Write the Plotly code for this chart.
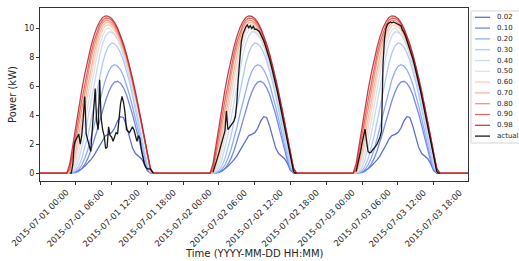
import pandas as pd
import plotly.graph_objects as go

# ---------------- data ----------------
days = ["2015-07-01", "2015-07-02", "2015-07-03"]
x_start = "2015-07-01 00:00"
x_end = "2015-07-03 23:45"

quantile_labels = ["0.02", "0.10", "0.20", "0.30", "0.40", "0.50",
                   "0.60", "0.70", "0.80", "0.90", "0.98"]

# daily forecast profile, half-hourly from 04:30 to 19:00 (same each day)
q_hours = [4.5, 5.0, 5.5, 6.0, 6.5, 7.0, 7.5, 8.0, 8.5, 9.0, 9.5, 10.0, 10.5, 11.0, 11.5,
           12.0, 12.5, 13.0, 13.5, 14.0, 14.5, 15.0, 15.5, 16.0, 16.5, 17.0, 17.5, 18.0, 18.5, 19.0]

q02 = [0, 0, 0.03, 0.08, 0.17, 0.30, 0.47, 0.68, 0.92, 1.20, 1.55, 1.95, 2.35, 2.60, 2.68,
       2.80, 3.10, 3.60, 3.90, 3.85, 3.25, 2.45, 1.75, 1.35, 1.20, 1.00, 0.65, 0.18, 0.02, 0]
q10 = [0, 0, 0.01, 0.04, 0.13, 0.31, 0.60, 1.00, 1.53, 2.16, 2.86, 3.60, 4.34, 5.02, 5.59,
       6.03, 6.29, 6.35, 6.22, 5.90, 5.42, 4.80, 4.07, 3.25, 2.41, 1.57, 0.81, 0.21, 0, 0]
q20 = [0, 0, 0.01, 0.09, 0.26, 0.56, 1.01, 1.60, 2.33, 3.16, 4.04, 4.93, 5.76, 6.48, 7.03,
       7.38, 7.50, 7.41, 7.15, 6.72, 6.14, 5.42, 4.61, 3.73, 2.80, 1.88, 1.02, 0.29, 0, 0]
q30 = [0, 0, 0.04, 0.19, 0.50, 0.99, 1.68, 2.54, 3.53, 4.60, 5.68, 6.71, 7.61, 8.32, 8.79,
       9.00, 8.94, 8.72, 8.33, 7.79, 7.10, 6.29, 5.38, 4.40, 3.37, 2.32, 1.31, 0.41, 0.05, 0]
q40 = [0, 0, 0.10, 0.41, 0.94, 1.69, 2.63, 3.72, 4.88, 6.05, 7.16, 8.15, 8.94, 9.49, 9.76,
       9.75, 9.58, 9.26, 8.80, 8.20, 7.48, 6.65, 5.73, 4.75, 3.71, 2.66, 1.62, 0.64, 0.10, 0]
q50 = [0, 0.01, 0.22, 0.72, 1.46, 2.40, 3.48, 4.64, 5.82, 6.96, 7.99, 8.85, 9.50, 9.91, 10.05,
       9.87, 9.62, 9.26, 8.80, 8.25, 7.60, 6.87, 6.07, 5.21, 4.29, 3.31, 2.30, 1.26, 0.22, 0]
q60 = [0, 0.04, 0.43, 1.13, 2.03, 3.09, 4.24, 5.41, 6.56, 7.63, 8.56, 9.33, 9.88, 10.20, 10.26,
       10.10, 9.85, 9.48, 9.00, 8.44, 7.78, 7.03, 6.21, 5.33, 4.38, 3.38, 2.35, 1.29, 0.25, 0]
q70 = [0, 0.07, 0.65, 1.52, 2.56, 3.69, 4.87, 6.04, 7.15, 8.15, 9.00, 9.68, 10.16, 10.41, 10.43,
       10.27, 10.01, 9.63, 9.15, 8.58, 7.90, 7.15, 6.31, 5.42, 4.46, 3.44, 2.39, 1.31, 0.25, 0]
q80 = [0, 0.21, 1.07, 2.12, 3.28, 4.46, 5.64, 6.76, 7.78, 8.68, 9.44, 10.01, 10.40, 10.58, 10.56,
       10.41, 10.15, 9.77, 9.28, 8.70, 8.02, 7.25, 6.40, 5.49, 4.52, 3.49, 2.43, 1.32, 0.30, 0]
q90 = [0, 0.34, 1.42, 2.61, 3.83, 5.04, 6.19, 7.26, 8.22, 9.05, 9.73, 10.25, 10.58, 10.73, 10.71,
       10.57, 10.30, 9.92, 9.43, 8.83, 8.14, 7.35, 6.47, 5.53, 4.52, 3.46, 2.38, 1.25, 0.30, 0]
q98 = [0, 0.65, 1.98, 3.29, 4.55, 5.74, 6.83, 7.82, 8.70, 9.44, 10.04, 10.47, 10.76, 10.88, 10.84,
       10.69, 10.42, 10.03, 9.53, 8.93, 8.23, 7.44, 6.57, 5.64, 4.64, 3.58, 2.49, 1.36, 0.35, 0]

quantile_values = [q02, q10, q20, q30, q40, q50, q60, q70, q80, q90, q98]

# actual measured power, quarter-hourly from 05:00 to 19:00
a_hours = [5.0 + 0.25 * i for i in range(57)]
actual_day1 = [0, 0, 0.6, 2.0, 2.3, 2.5, 2.7, 2.0, 2.6, 3.8, 5.3, 2.7, 2.2, 1.9, 1.5, 3.0, 4.4,
               5.85, 3.6, 3.0, 6.45, 3.8, 3.0, 2.6, 1.7, 1.8, 3.2, 2.6, 2.5, 2.2, 2.5, 2.8, 2.7,
               4.0, 4.8, 5.3, 4.9, 4.2, 3.0, 2.9, 2.8, 3.0, 3.2, 3.0, 2.5, 2.2, 2.6, 2.4, 1.6,
               1.0, 0.6, 0.4, 0.3, 0.3, 0.3, 0.1, 0]
actual_day2 = [0.05, 0.35, 0.7, 1.05, 1.4, 1.8, 2.15, 2.5, 2.9, 4.3, 3.0, 3.15, 3.3, 3.4, 3.6,
               3.9, 4.9, 6.6, 8.1, 9.1, 9.6, 9.9, 10.1, 10.25, 10.05, 10.2, 10.0, 10.15, 9.95,
               9.95, 9.9, 9.8, 9.6, 9.4, 9.15, 8.85, 8.55, 8.2, 7.85, 7.45, 7.05, 6.6, 6.15, 5.7,
               5.2, 4.7, 4.2, 3.7, 3.15, 2.6, 2.05, 1.5, 0.95, 0.45, 0.1, 0, 0]
actual_day3 = [0.1, 0.5, 1.0, 1.5, 2.1, 2.6, 3.05, 2.2, 1.5, 1.4, 1.45, 1.6, 1.7, 1.85, 2.0,
               2.2, 2.5, 2.9, 7.5, 9.3, 10.0, 10.3, 10.4, 10.45, 10.4, 10.45, 10.4, 10.35, 10.3,
               10.3, 10.2, 9.9, 9.75, 9.5, 9.2, 8.9, 8.6, 8.25, 7.9, 7.5, 7.1, 6.65, 6.2, 5.75,
               5.25, 4.75, 4.25, 3.75, 3.2, 2.65, 2.1, 1.55, 1.0, 0.5, 0.12, 0, 0]
actual_days = [actual_day1, actual_day2, actual_day3]

y_ticks = [0, 2, 4, 6, 8, 10]
x_ticks = ["2015-07-01 00:00", "2015-07-01 06:00", "2015-07-01 12:00", "2015-07-01 18:00",
           "2015-07-02 00:00", "2015-07-02 06:00", "2015-07-02 12:00", "2015-07-02 18:00",
           "2015-07-03 00:00", "2015-07-03 06:00", "2015-07-03 12:00", "2015-07-03 18:00"]

# ---------------- style ----------------
colors = ["rgba(65,85,200,0.85)", "rgba(89,120,227,0.85)", "rgba(124,159,249,0.85)",
          "rgba(158,190,255,0.85)", "rgba(192,212,245,0.85)", "rgba(221,221,221,0.85)",
          "rgba(242,203,183,0.85)", "rgba(247,173,143,0.85)", "rgba(238,132,104,0.85)",
          "rgba(215,83,68,0.85)", "rgba(188,28,45,0.85)"]
actual_color = "rgba(0,0,0,0.9)"
FONT = "DejaVu Sans"
TXT = "#262626"

W, H = 519, 261
L, R, T, B = 40, 468, 8, 181


def ts(day, h):
    return pd.Timestamp(day) + pd.Timedelta(hours=h)


fig = go.Figure()

for label, vals, col in zip(quantile_labels, quantile_values, colors):
    xs, ys = [], []
    for d in days:
        xs.append(pd.Timestamp(d))
        ys.append(0)
        for h, v in zip(q_hours, vals):
            xs.append(ts(d, h))
            ys.append(v)
    xs.append(pd.Timestamp(x_end))
    ys.append(0)
    fig.add_trace(go.Scatter(x=xs, y=ys, mode="lines", name=label,
                             line=dict(color=col, width=1.3), showlegend=False))

xs, ys = [], []
for d, vals in zip(days, actual_days):
    for h, v in zip(a_hours, vals):
        xs.append(ts(d, h))
        ys.append(v)
    xs.append(None)
    ys.append(None)
fig.add_trace(go.Scatter(x=xs, y=ys, mode="lines", name="actual", connectgaps=False,
                         line=dict(color=actual_color, width=1.3), showlegend=False))


def pxx(p):
    return (p - L) / (R - L)


def pxy(p):
    return (B - p) / (B - T)


annotations = []
# x tick labels, rotated 45 degrees and centred on their tick (matplotlib style)
for t in x_ticks:
    annotations.append(dict(xref="x", yref="paper", x=t, y=pxy(184.5),
                            text=t, showarrow=False, textangle=-45,
                            xanchor="center", yanchor="top",
                            font=dict(family=FONT, size=8.5, color=TXT)))
# x axis title
annotations.append(dict(xref="paper", yref="paper", x=0.5, y=pxy(253),
                        text="Time (YYYY-MM-DD HH:MM)", showarrow=False,
                        xanchor="center", yanchor="middle",
                        font=dict(family=FONT, size=10, color=TXT)))

# ---------------- custom legend (matplotlib-like) ----------------
shapes = [dict(type="rect", xref="paper", yref="paper",
               x0=pxx(471), x1=pxx(525), y0=pxy(143), y1=pxy(11),
               line=dict(color="#d5d5d5", width=1), fillcolor="rgba(255,255,255,0.9)",
               layer="above")]
legend_labels = quantile_labels + ["actual"]
legend_colors = colors + [actual_color]
for i, (lab, col) in enumerate(zip(legend_labels, legend_colors)):
    yy = 17.3 + i * 10.8
    shapes.append(dict(type="line", xref="paper", yref="paper",
                       x0=pxx(475), x1=pxx(490), y0=pxy(yy), y1=pxy(yy),
                       line=dict(color=col, width=1.3), layer="above"))
    annotations.append(dict(xref="paper", yref="paper", x=pxx(495), y=pxy(yy),
                            text=lab, showarrow=False, xanchor="left", yanchor="middle",
                            font=dict(family=FONT, size=7, color=TXT)))

fig.update_layout(
    width=W, height=H,
    margin=dict(l=L, r=W - R, t=T, b=H - B, pad=0),
    paper_bgcolor="white", plot_bgcolor="white",
    font=dict(family=FONT, size=8, color=TXT),
    shapes=shapes, annotations=annotations,
    showlegend=False,
)
fig.update_xaxes(
    type="date", range=[x_start, x_end],
    tickmode="array", tickvals=x_ticks, showticklabels=False,
    ticks="outside", ticklen=3, tickwidth=1, tickcolor="#333",
    showline=True, mirror=True, linecolor="#333", linewidth=1,
    showgrid=False, zeroline=False, automargin=False,
)
fig.update_yaxes(
    range=[-0.544, 11.42], tickmode="array", tickvals=y_ticks,
    ticktext=[str(v) for v in y_ticks],
    ticks="outside", ticklen=3, tickwidth=1, tickcolor="#333",
    showline=True, mirror=True, linecolor="#333", linewidth=1,
    showgrid=False, zeroline=False, automargin=False,
    tickfont=dict(family=FONT, size=8, color=TXT),
    title=dict(text="Power (kW)", font=dict(family=FONT, size=10, color=TXT), standoff=5),
)

fig.write_html("out.html", config={"displayModeBar": False},
               post_script="document.body.style.margin='0px';document.body.style.overflow='hidden';")
